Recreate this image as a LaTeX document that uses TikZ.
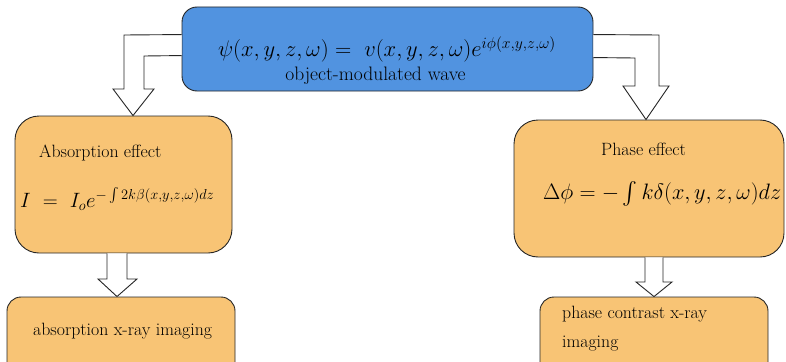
\documentclass[tikz,border=0pt]{standalone}
\usepackage{amsmath}
\usepackage{graphicx}
\usetikzlibrary{calc}
\definecolor{boxblue}{RGB}{81,147,224}
\definecolor{boxorange}{RGB}{248,196,117}
\begin{document}
\begin{tikzpicture}[x=1pt,y=-1pt,
  box/.style={draw=black!85,line width=0.9pt,inner sep=0pt},
  bluebox/.style={box,fill=boxblue,rounded corners=15pt},
  orangebox/.style={box,fill=boxorange,rounded corners=24pt},
  smallbox/.style={box,fill=boxorange,rounded corners=14pt},
  blockarrow/.style={draw=black!85,line width=0.9pt,fill=white,line join=miter},
  lbl/.style={inner sep=0pt,font=\fontsize{17.8}{21}\selectfont},
  eq/.style={inner sep=0pt}]
\clip (0,0) rectangle (786,361);
% boxes
\node[bluebox,minimum width=411pt,minimum height=84pt] (top) at (387.5,49) {};
\node[orangebox,minimum width=217pt,minimum height=137pt] (absb) at (123.5,184.5) {};
\node[orangebox,minimum width=270pt,minimum height=137pt] (phb) at (649,188.5) {};
\node[smallbox,minimum width=228pt,minimum height=80pt] (absimg) at (121,337) {};
\node[smallbox,minimum width=228pt,minimum height=80pt] (phimg) at (654,337) {};
% texts
\node[eq,anchor=base] (eqtop) at (387,57) {\resizebox{338pt}{!}{\fontsize{20}{24}\selectfont$\psi(x,y,z,\omega) =\ v(x,y,z,\omega)e^{i\phi(x,y,z,\omega)}$}};
\node[inner sep=0pt,anchor=base,font=\fontsize{19.5}{22}\selectfont] (omw) at (375.5,81) {object-modulated wave};
\node[lbl,anchor=base west] (abst) at (39,157) {Absorption effect};
\node[eq,anchor=base west] (eqabs) at (20,207) {\fontsize{21}{25}\selectfont$I\ =\ I_o e^{-\int 2k\beta(x,y,z,\omega)dz}$};
\node[lbl,anchor=base west] (pht) at (601,155) {Phase effect};
\node[eq,anchor=base west] (eqph) at (543,199) {\resizebox{238pt}{!}{\fontsize{20}{24}\selectfont$\Delta\phi = -\int k\delta(x,y,z,\omega)dz$}};
\node[lbl,anchor=base west] (absimgt) at (33,335) {absorption x-ray imaging};
\node[lbl,anchor=base west] (phimgt1) at (562,318) {phase contrast x-ray};
\node[lbl,anchor=base west] (phimgt2) at (562,347) {imaging};
% connectors (block arrows)
\coordinate (la1) at ($(top.north west)+(0,28)$);
\coordinate (la2) at ($(top.north west)+(0,49)$);
\coordinate (latip) at ($(absb.north)+(9.5,0)$);
\draw[blockarrow] (la1) -- (124,35) -- (124,89) -- (113,89) -- (latip) -- (154,89) -- (144,89) -- (144,56) -- (la2);
\coordinate (ra1) at ($(top.north east)+(0,28)$);
\coordinate (ra2) at ($(top.north east)+(0,51)$);
\coordinate (ratip) at ($(phb.north)+(-3,0)$);
\draw[blockarrow] (ra1) -- (659,35) -- (659,86) -- (669,86) -- (ratip) -- (623,86) -- (635,86) -- (635,58) -- (ra2);
\coordinate (lb1) at ($(absb.south)+(-16.5,0)$);
\coordinate (lb2) at ($(absb.south)+(3.5,0)$);
\coordinate (lbtip) at ($(absimg.north)+(-4,0)$);
\draw[blockarrow] (lb1) -- (107,279) -- (98,279) -- (lbtip) -- (137,279) -- (127,279) -- (lb2);
\coordinate (rb1) at ($(phb.south)+(-4,0)$);
\coordinate (rb2) at ($(phb.south)+(14,0)$);
\coordinate (rbtip) at (phimg.north);
\draw[blockarrow] (rb1) -- (645,282) -- (636,282) -- (rbtip) -- (672,282) -- (663,282) -- (rb2);
\end{tikzpicture}
\end{document}
